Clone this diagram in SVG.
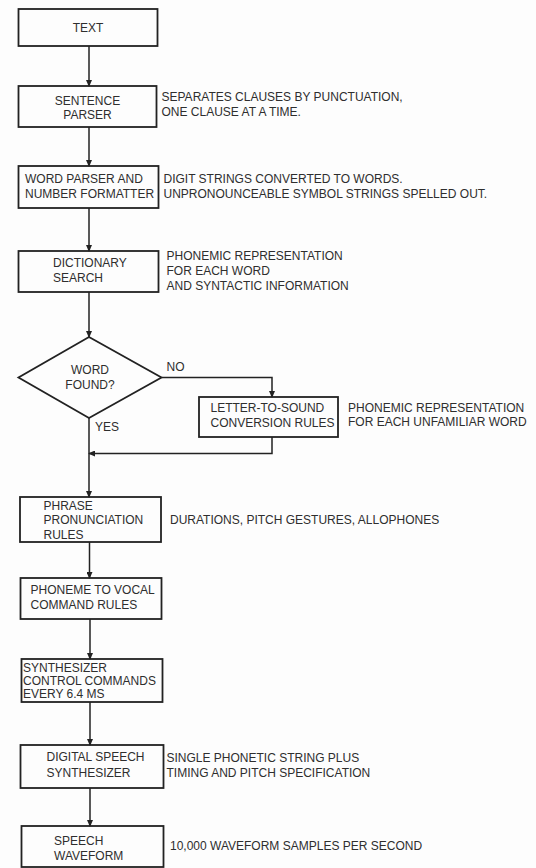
<svg xmlns="http://www.w3.org/2000/svg" width="536" height="868" viewBox="0 0 536 868">
<defs>
<marker id="ah" markerWidth="7" markerHeight="6" refX="6" refY="3" orient="auto" markerUnits="userSpaceOnUse">
<path d="M0,0 L7,3 L0,6 Z" fill="#222"/>
</marker>
<style>
.box{fill:none;stroke:#222;stroke-width:1.8}
.c{fill:none;stroke:#222;stroke-width:1.5;marker-end:url(#ah)}
text{font-family:"Liberation Sans",Arial,sans-serif;font-size:12px;fill:#2e2e2e}
.m{text-anchor:middle}
</style>
</defs>
<rect width="536" height="868" fill="#fdfdfd"/>
<g id="connectors">
<path class="c" d="M89,46 V86"/>
<path class="c" d="M89,127 V166"/>
<path class="c" d="M89,208 V251"/>
<path class="c" d="M89,292 V337"/>
<path class="c" d="M161.5,377.5 H272 V397"/>
<path class="c" d="M89,418 V497"/>
<path class="c" d="M272,437 V453.5 H89"/>
<path class="c" d="M89.5,542 V578"/>
<path class="c" d="M90,619 V659"/>
<path class="c" d="M90,702 V745"/>
<path class="c" d="M90,788 V826"/>
</g>
<g id="text-node">
<rect class="box" x="18.5" y="9" width="139" height="37"/>
<text class="m" x="88" y="32">TEXT</text>
</g>
<g id="sentence-parser">
<rect class="box" x="18.5" y="86" width="138" height="41"/>
<text class="m" x="87.5" y="105">SENTENCE</text>
<text class="m" x="87.5" y="118.5">PARSER</text>
<text x="161.5" y="101">SEPARATES CLAUSES BY PUNCTUATION,</text>
<text x="161.5" y="116">ONE CLAUSE AT A TIME.</text>
</g>
<g id="word-parser">
<rect class="box" x="18.5" y="166" width="140" height="42"/>
<text x="25" y="182.5">WORD PARSER AND</text>
<text x="25" y="197.5">NUMBER FORMATTER</text>
<text x="163.5" y="182.5">DIGIT STRINGS CONVERTED TO WORDS.</text>
<text x="163.5" y="197.5">UNPRONOUNCEABLE SYMBOL STRINGS SPELLED OUT.</text>
</g>
<g id="dictionary-search">
<rect class="box" x="18.5" y="251" width="140" height="41"/>
<text x="53" y="267">DICTIONARY</text>
<text x="53" y="281.5">SEARCH</text>
<text x="166.5" y="260">PHONEMIC REPRESENTATION</text>
<text x="166.5" y="275">FOR EACH WORD</text>
<text x="166.5" y="290">AND SYNTACTIC INFORMATION</text>
</g>
<g id="word-found">
<polygon class="box" points="89,337 161.5,377.5 89,418 18.5,377.5"/>
<text class="m" x="90" y="374">WORD</text>
<text class="m" x="90" y="389">FOUND?</text>
<text x="166.5" y="371">NO</text>
<text x="95" y="431">YES</text>
</g>
<g id="letter-to-sound">
<rect class="box" x="199" y="397" width="139" height="40"/>
<text x="210.5" y="411.5">LETTER-TO-SOUND</text>
<text x="210.5" y="426.5">CONVERSION RULES</text>
<text x="348" y="412">PHONEMIC REPRESENTATION</text>
<text x="348" y="426">FOR EACH UNFAMILIAR WORD</text>
</g>
<g id="phrase-pronunciation">
<rect class="box" x="20" y="497" width="141" height="45"/>
<text x="43.5" y="509.5">PHRASE</text>
<text x="43.5" y="523.5">PRONUNCIATION</text>
<text x="43.5" y="538.5">RULES</text>
<text x="170" y="523.5">DURATIONS, PITCH GESTURES, ALLOPHONES</text>
</g>
<g id="phoneme-to-vocal">
<rect class="box" x="20.5" y="578" width="141" height="41"/>
<text x="30.5" y="593.5">PHONEME TO VOCAL</text>
<text x="30.5" y="609">COMMAND RULES</text>
</g>
<g id="synth-control">
<rect class="box" x="21.5" y="659" width="141" height="43"/>
<text x="23" y="671.5">SYNTHESIZER</text>
<text x="23" y="685">CONTROL COMMANDS</text>
<text x="23" y="697.5">EVERY 6.4 MS</text>
</g>
<g id="digital-synth">
<rect class="box" x="20.5" y="745" width="143" height="43"/>
<text x="46.5" y="761">DIGITAL SPEECH</text>
<text x="46.5" y="776.5">SYNTHESIZER</text>
<text x="166.5" y="762">SINGLE PHONETIC STRING PLUS</text>
<text x="166.5" y="777">TIMING AND PITCH SPECIFICATION</text>
</g>
<g id="speech-waveform">
<rect class="box" x="21.5" y="826" width="142" height="41"/>
<text x="54" y="845">SPEECH</text>
<text x="54" y="859.5">WAVEFORM</text>
<text x="170" y="850">10,000 WAVEFORM SAMPLES PER SECOND</text>
</g>
</svg>
